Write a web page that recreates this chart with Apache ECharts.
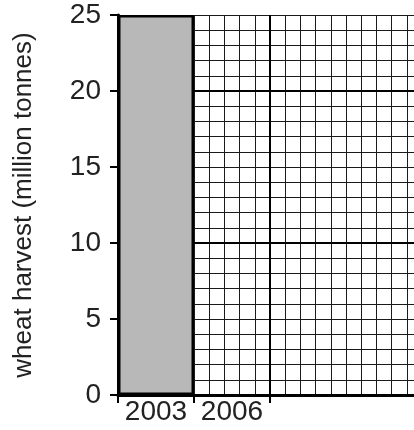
<!DOCTYPE html>
<html>
<head>
<meta charset="utf-8">
<script src="https://cdn.jsdelivr.net/npm/echarts@6/dist/echarts.min.js"></script>
<style>html,body{margin:0;padding:0;background:#fff;}#c{width:414px;height:430px;}</style>
</head>
<body>
<div id="c"></div>
<script>
var categories = ['2003', '2006', '', ''];
var harvest = [25, null, null, null];
var yTicks = [0, 5, 10, 15, 20, 25];
var majorLines = [10, 20];
var yName = 'wheat harvest (million tonnes)';

var chart = echarts.init(document.getElementById('c'), null, {renderer: 'canvas'});
var font = 'Liberation Sans, Arial, sans-serif';
chart.setOption({
  animation: false,
  grid: {left: 118, top: 15, width: 304, bottom: 35, outerBoundsMode: 'none', containLabel: false},
  xAxis: [{
    type: 'category',
    data: categories,
    boundaryGap: true,
    axisLine: {show: true, lineStyle: {color: '#000', width: 3}},
    axisTick: {show: true, length: 8, lineStyle: {color: '#000', width: 2}, interval: function (i) { return i <= 2; }},
    axisLabel: {color: '#222', fontSize: 28, fontFamily: font, margin: 3, interval: 0},
    splitLine: {show: false},
    z: 5
  }, {
    type: 'value',
    min: 0, max: 4, interval: 2,
    axisLine: {show: false}, axisTick: {show: false}, axisLabel: {show: false},
    splitLine: {show: true, lineStyle: {color: '#000', width: 2}},
    minorTick: {show: false, splitNumber: 10},
    minorSplitLine: {show: true, lineStyle: {color: '#1a1a1a', width: 1}}
  }],
  yAxis: [{
    type: 'value',
    min: 0, max: 25, interval: 5,
    name: yName,
    nameLocation: 'middle',
    nameGap: 81,
    nameTextStyle: {color: '#222', fontSize: 26, fontFamily: font},
    axisLine: {show: true, lineStyle: {color: '#000', width: 3}},
    axisTick: {show: true, length: 8, lineStyle: {color: '#000', width: 2}},
    axisLabel: {color: '#222', fontSize: 28, fontFamily: font, margin: 17,
      formatter: function (v) { return yTicks.indexOf(v) >= 0 ? String(v) : ''; }},
    splitLine: {show: false},
    z: 5
  }, {
    type: 'value',
    min: 0, max: 25, interval: 1,
    axisLine: {show: false}, axisTick: {show: false}, axisLabel: {show: false},
    splitLine: {show: true, lineStyle: {color: '#1a1a1a', width: 1}}
  }],
  series: [{
    type: 'bar',
    xAxisIndex: 0, yAxisIndex: 0,
    data: harvest,
    barWidth: '100%',
    itemStyle: {color: '#b8b8b8', borderColor: '#000', borderWidth: 2.5},
    markLine: {
      silent: true, symbol: 'none', label: {show: false},
      lineStyle: {color: '#000', width: 2, type: 'solid'},
      data: majorLines.map(function (v) { return {yAxis: v}; }),
      z: 1
    }
  }]
});
</script>
</body>
</html>
